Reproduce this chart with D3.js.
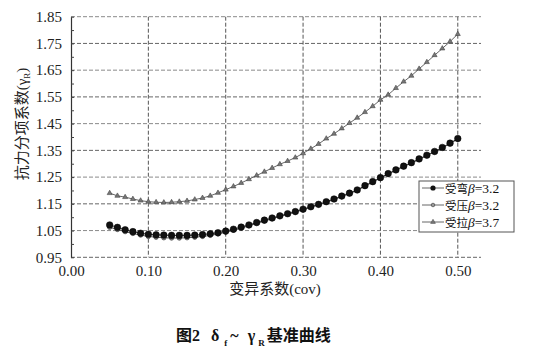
<!DOCTYPE html>
<html><head><meta charset="utf-8">
<script src="https://cdn.jsdelivr.net/npm/d3@7"></script>
<style>
body{margin:0;background:#fff;}
svg{display:block;}
</style></head>
<body><svg id="c" width="540" height="351"></svg>
<script>
const cov = [0.05,0.06,0.07,0.08,0.09,0.10,0.11,0.12,0.13,0.14,0.15,0.16,0.17,0.18,0.19,0.20,0.21,0.22,0.23,0.24,0.25,0.26,0.27,0.28,0.29,0.30,0.31,0.32,0.33,0.34,0.35,0.36,0.37,0.38,0.39,0.40,0.41,0.42,0.43,0.44,0.45,0.46,0.47,0.48,0.49,0.50];
const bending = [1.071,1.062,1.053,1.046,1.040,1.036,1.034,1.033,1.032,1.032,1.032,1.033,1.035,1.038,1.042,1.048,1.055,1.063,1.071,1.080,1.089,1.097,1.105,1.113,1.121,1.130,1.139,1.148,1.158,1.168,1.179,1.190,1.202,1.218,1.233,1.248,1.263,1.277,1.291,1.304,1.318,1.332,1.346,1.361,1.377,1.394];
const compression = [1.062,1.054,1.046,1.039,1.033,1.028,1.025,1.023,1.022,1.022,1.023,1.025,1.028,1.032,1.037,1.044,1.051,1.059,1.068,1.077,1.086,1.094,1.103,1.111,1.119,1.128,1.137,1.146,1.156,1.166,1.177,1.188,1.200,1.216,1.231,1.246,1.261,1.275,1.289,1.302,1.316,1.330,1.344,1.359,1.375,1.392];
const tension = [1.190,1.180,1.175,1.168,1.162,1.158,1.156,1.155,1.156,1.158,1.161,1.166,1.172,1.180,1.191,1.203,1.215,1.228,1.242,1.256,1.270,1.284,1.298,1.310,1.323,1.339,1.356,1.374,1.394,1.412,1.432,1.452,1.472,1.493,1.515,1.539,1.558,1.583,1.607,1.629,1.655,1.680,1.706,1.731,1.757,1.785];
const xTicks = [0.00,0.10,0.20,0.30,0.40,0.50];
const yTicks = [0.95,1.05,1.15,1.25,1.35,1.45,1.55,1.65,1.75,1.85];
const legendLabels = ["受弯","受压","受拉"];
const legendBetas = ["=3.2","=3.2","=3.7"];

const svg = d3.select("#c");
const x = d3.scaleLinear().domain([0,0.53]).range([71,481]);
const y = d3.scaleLinear().domain([0.95,1.85]).range([257.3,16.7]);
const serif = "'Liberation Serif','Times New Roman',serif";
const cjk = "'Noto Sans CJK SC',sans-serif";

// horizontal grid
svg.append("g").selectAll("line").data(yTicks).join("line")
  .attr("x1",x(0)).attr("x2",x(0.53)).attr("y1",d=>y(d)).attr("y2",d=>y(d))
  .attr("stroke",(d,i)=> (i%2===0)?"#666":"#8a8a8a").attr("stroke-width",1)
  .attr("stroke-dasharray","4,2");
// vertical grid
svg.append("g").selectAll("line").data(xTicks.slice(1)).join("line")
  .attr("x1",d=>x(d)).attr("x2",d=>x(d)).attr("y1",y(1.85)).attr("y2",y(0.95))
  .attr("stroke","#555").attr("stroke-width",1).attr("stroke-dasharray","4,2");

// y axis
const ya = svg.append("g").attr("transform",`translate(${x(0)},0)`)
  .call(d3.axisLeft(y).tickValues(yTicks).tickFormat(d3.format(".2f")).tickSize(0).tickPadding(9));
ya.select(".domain").attr("stroke","#333").attr("stroke-width",1.2);
ya.selectAll("text").attr("font-family",serif).attr("font-size",15).attr("fill","#222");
// minor inward ticks
const minor = d3.range(0,19).map(i=>0.95+i*0.05);
svg.append("g").attr("transform",`translate(${x(0)},0)`)
  .call(d3.axisRight(y).tickValues(minor).tickSize(3).tickFormat(""))
  .call(g=>g.select(".domain").remove())
  .selectAll("line").attr("stroke","#444");

// x axis
const xa = svg.append("g").attr("transform",`translate(0,${y(0.95)})`)
  .call(d3.axisBottom(x).tickValues(xTicks).tickFormat(d3.format(".2f")).tickSize(0).tickPadding(8));
xa.select(".domain").remove();
xa.selectAll("text").attr("font-family",serif).attr("font-size",15).attr("fill","#222");

// axis titles
svg.append("text").attr("x",275).attr("y",294).attr("text-anchor","middle")
  .attr("font-size",15).attr("fill","#222")
  .html(`<tspan font-family="${cjk}">变异系数</tspan><tspan font-family="${serif}">(cov)</tspan>`);
svg.append("text").attr("transform","translate(27,124) rotate(-90)").attr("text-anchor","middle")
  .attr("font-size",15).attr("fill","#222")
  .html(`<tspan font-family="${cjk}">抗力分项系数</tspan><tspan font-family="${serif}">(γ</tspan><tspan font-family="${serif}" font-size="9" dy="3">R</tspan><tspan font-family="${serif}" dy="-3">)</tspan>`);

// caption
svg.append("text").attr("x",176).attr("y",341).attr("text-anchor","start")
  .attr("font-size",16).attr("font-weight","bold").attr("fill","#111")
  .html(`<tspan font-family="${cjk}">图</tspan><tspan font-family="${serif}">2</tspan><tspan font-family="${serif}" dx="11">δ</tspan><tspan font-family="${serif}" font-size="9" dx="5" dy="5">f</tspan><tspan font-family="${serif}" dx="3" dy="-5">~</tspan><tspan font-family="${serif}" dx="9">γ</tspan><tspan font-family="${serif}" font-size="9" dx="3" dy="5">R</tspan><tspan font-family="${cjk}" dx="2" dy="-5">基准曲线</tspan>`);

const line = d3.line().x((d,i)=>x(cov[i])).y(d=>y(d));
const tri = d3.symbol().type(d3.symbolTriangle).size(11);

// tension
svg.append("path").datum(tension).attr("d",line).attr("fill","none").attr("stroke","#666").attr("stroke-width",1);
svg.append("g").selectAll("path").data(tension).join("path")
  .attr("d",tri).attr("transform",(d,i)=>`translate(${x(cov[i])},${y(d)})`)
  .attr("fill","#777").attr("stroke","#444").attr("stroke-width",0.6);
// compression
svg.append("path").datum(compression).attr("d",line).attr("fill","none").attr("stroke","#555").attr("stroke-width",1);
svg.append("g").selectAll("circle").data(compression).join("circle")
  .attr("cx",(d,i)=>x(cov[i])).attr("cy",d=>y(d)).attr("r",2.2)
  .attr("fill","#888").attr("stroke","#333").attr("stroke-width",0.6);
// bending
svg.append("path").datum(bending).attr("d",line).attr("fill","none").attr("stroke","#333").attr("stroke-width",1);
svg.append("g").selectAll("circle").data(bending).join("circle")
  .attr("cx",(d,i)=>x(cov[i])).attr("cy",d=>y(d)).attr("r",3.3)
  .attr("fill","#111").attr("stroke","#000").attr("stroke-width",0.5);

// legend
const lg = svg.append("g");
lg.append("rect").attr("x",419).attr("y",181).attr("width",95).attr("height",51)
  .attr("fill","#fff").attr("stroke","#555").attr("stroke-width",1);
const rows = [189,206,223];
legendLabels.forEach((lab,i)=>{
  const yy = rows[i];
  lg.append("line").attr("x1",422).attr("x2",444).attr("y1",yy-1).attr("y2",yy-1).attr("stroke","#666").attr("stroke-width",1);
  if(i===0) lg.append("circle").attr("cx",433).attr("cy",yy-1).attr("r",2.6).attr("fill","#111");
  if(i===1) lg.append("circle").attr("cx",433).attr("cy",yy-1).attr("r",1.8).attr("fill","#999").attr("stroke","#333").attr("stroke-width",0.6);
  if(i===2) lg.append("path").attr("d",d3.symbol().type(d3.symbolTriangle).size(10)).attr("transform",`translate(433,${yy-1})`).attr("fill","#777").attr("stroke","#444").attr("stroke-width",0.5);
  lg.append("text").attr("x",445).attr("y",yy+4).attr("font-size",13.5).attr("fill","#111")
    .html(`<tspan font-family="${cjk}" font-size="11.5">${lab}</tspan><tspan font-family="${serif}" font-style="italic">β</tspan><tspan font-family="${serif}">${legendBetas[i]}</tspan>`);
});
</script></body></html>
